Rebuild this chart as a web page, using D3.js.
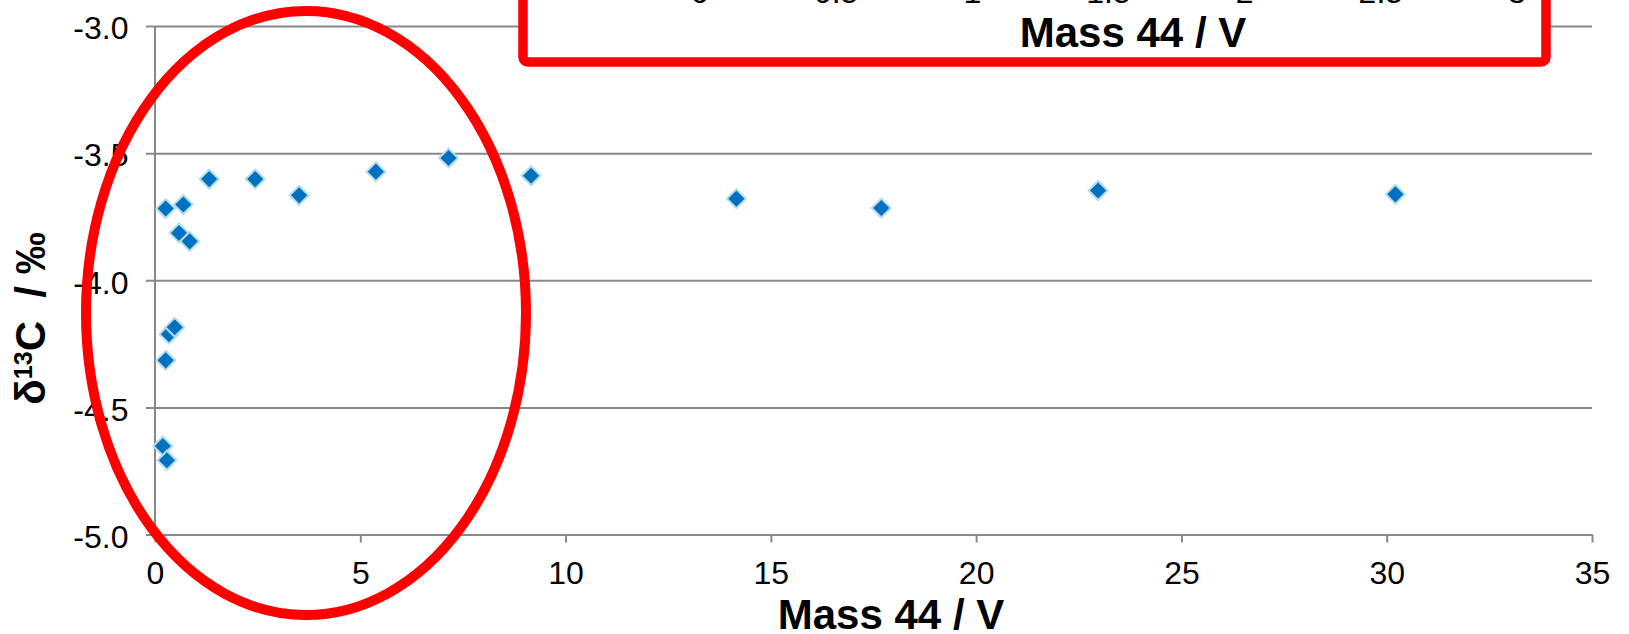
<!DOCTYPE html>
<html>
<head>
<meta charset="utf-8">
<script src="https://cdn.jsdelivr.net/npm/d3@7"></script>
<style>
  html, body { margin: 0; padding: 0; background: #ffffff; }
  svg { display: block; font-family: "Liberation Sans", Arial, Helvetica, sans-serif; }
</style>
</head>
<body>
<svg id="chart" width="1629" height="634"></svg>
<script>
// Measured CO2 signal (Mass 44, V) and the corresponding δ13C (‰)
const mass44 = [0.19, 0.29, 0.26, 0.34, 0.48, 0.26, 0.585, 0.69, 0.845, 1.32, 2.44, 3.51, 5.38, 7.15, 9.16, 14.16, 17.69, 22.97, 30.21];
const d13C   = [-4.652, -4.708, -4.315, -4.212, -4.185, -3.718, -3.814, -3.702, -3.847, -3.602, -3.602, -3.666, -3.573, -3.519, -3.589, -3.679, -3.716, -3.647, -3.662];

const xTicks = [0, 5, 10, 15, 20, 25, 30, 35];
const yTicks = [-3.0, -3.5, -4.0, -4.5, -5.0];
const insetTicks = [0, 0.5, 1, 1.5, 2, 2.5, 3];

const xTitle = "Mass 44 / V";
const insetTitle = "Mass 44 / V";

const svg = d3.select("#chart");

// Plot area
const plotLeft = 155, plotRight = 1592, plotTop = 26, plotBottom = 534.5;
const x = d3.scaleLinear().domain([0, 35]).range([plotLeft, plotRight]);
const y = d3.scaleLinear().domain([-5.0, -3.0]).range([plotBottom, plotTop]);

const gridColor = "#888888";
const tickFont = 32;

// Horizontal gridlines (extend slightly left of the axis as tick marks)
const grid = svg.append("g")
  .attr("transform", `translate(${plotLeft - 9},0)`)
  .call(d3.axisLeft(y).tickValues(yTicks).tickSize(-(plotRight - plotLeft + 9)).tickFormat(""));
grid.select(".domain").remove();
grid.selectAll("line").attr("stroke", gridColor).attr("stroke-width", 2);

// Y tick labels
const yAxis = svg.append("g")
  .attr("transform", `translate(${plotLeft},0)`)
  .call(d3.axisLeft(y).tickValues(yTicks).tickSize(0).tickPadding(plotLeft - 128.5)
    .tickFormat(d => d.toFixed(1)));
yAxis.select(".domain").remove();
yAxis.selectAll("text")
  .attr("font-size", tickFont)
  .attr("font-family", "Liberation Sans, Arial, sans-serif")
  .attr("fill", "#000")
  .attr("dy", "0.4em");

// Vertical axis line
svg.append("line")
  .attr("x1", plotLeft).attr("x2", plotLeft)
  .attr("y1", y(-3.0)).attr("y2", y(-5.0))
  .attr("stroke", gridColor).attr("stroke-width", 2);

// X axis
const xAxis = svg.append("g")
  .attr("transform", `translate(0,${plotBottom})`)
  .call(d3.axisBottom(x).tickValues(xTicks).tickSize(8).tickSizeOuter(0).tickPadding(19)
    .tickFormat(d3.format("d")));
xAxis.select(".domain").attr("stroke", gridColor).attr("stroke-width", 2);
xAxis.selectAll("line").attr("stroke", gridColor).attr("stroke-width", 2);
xAxis.selectAll("text")
  .attr("font-size", tickFont)
  .attr("font-family", "Liberation Sans, Arial, sans-serif")
  .attr("fill", "#000");

// Data markers (diamonds)
const diamond = d3.symbol().type(d3.symbolSquare).size(180);
const pts = mass44.map((m, i) => ({ m, v: d13C[i] }));
svg.append("g").selectAll("path")
  .data(pts)
  .join("path")
  .attr("d", diamond)
  .attr("transform", d => `translate(${x(d.m)},${y(d.v)}) rotate(45)`)
  .attr("fill", "#0070C0")
  .attr("stroke", "#b3dde8")
  .attr("stroke-width", 2);

// X axis title
svg.append("text")
  .attr("x", 891).attr("y", 629)
  .attr("text-anchor", "middle")
  .attr("font-size", 42).attr("font-weight", "bold")
  .attr("fill", "#000")
  .text(xTitle);

// Y axis title: δ13C / ‰
const yt = svg.append("text")
  .attr("transform", "translate(45,318.5) rotate(-90)")
  .attr("text-anchor", "middle")
  .attr("font-size", 42).attr("font-weight", "bold")
  .attr("fill", "#000");
yt.append("tspan").text("δ");
yt.append("tspan").attr("font-size", 25).attr("dy", -13).text("13");
yt.append("tspan").attr("dy", 13).text("C\u00a0\u00a0/\u00a0‰");

// Highlight ellipse around the low-signal region
svg.append("ellipse")
  .attr("cx", 306).attr("cy", 313)
  .attr("rx", 220).attr("ry", 302)
  .attr("fill", "none")
  .attr("stroke", "#ff0000")
  .attr("stroke-width", 10);

// Inset frame (zoomed view of 0–3 V), its top lies above the page
const xi = d3.scaleLinear().domain([0, 3]).range([700, 1517]);
svg.append("rect")
  .attr("x", 523).attr("y", -30)
  .attr("width", 1546 - 523).attr("height", 62 + 30)
  .attr("rx", 5)
  .attr("fill", "#ffffff")
  .attr("stroke", "#ff0000")
  .attr("stroke-width", 9.5);

svg.append("g").selectAll("text")
  .data(insetTicks)
  .join("text")
  .attr("x", d => xi(d))
  .attr("y", 3.2)
  .attr("text-anchor", "middle")
  .attr("font-size", tickFont)
  .attr("fill", "#000")
  .text(d => String(d));

svg.append("text")
  .attr("x", 1133).attr("y", 46.5)
  .attr("text-anchor", "middle")
  .attr("font-size", 42).attr("font-weight", "bold")
  .attr("fill", "#000")
  .text(insetTitle);
</script>
</body>
</html>
